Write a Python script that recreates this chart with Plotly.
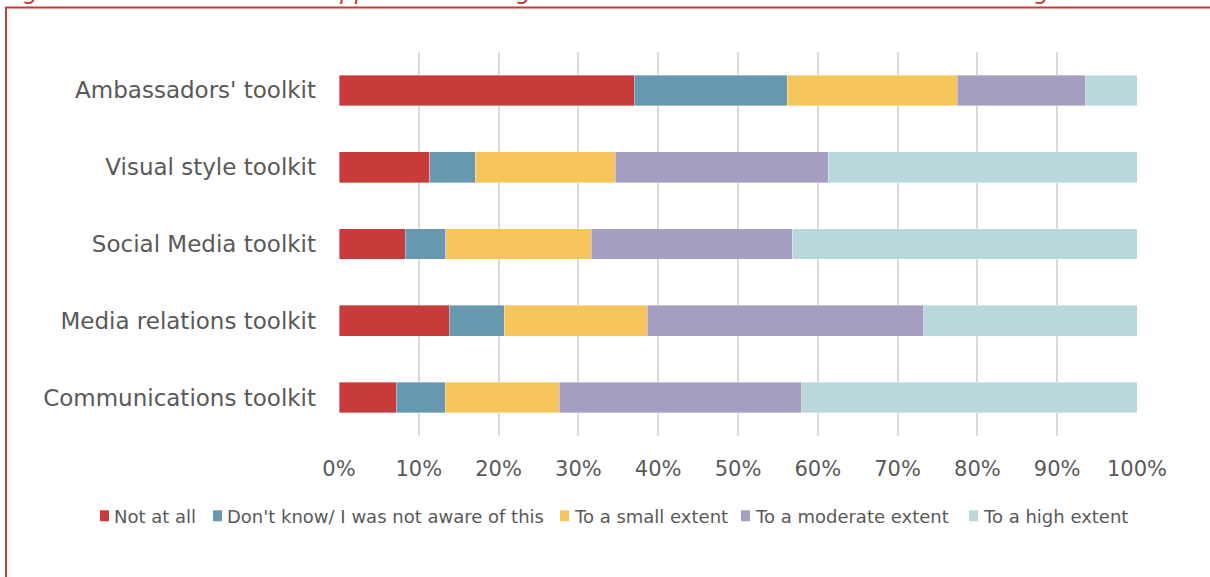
import plotly.graph_objects as go

# Toolkits shown top to bottom
categories = [
    "Ambassadors' toolkit",
    "Visual style toolkit",
    "Social Media toolkit",
    "Media relations toolkit",
    "Communications toolkit",
]

# Share of respondents per answer (%)
not_at_all = [37.0, 11.4, 8.3, 13.8, 7.2]
dont_know = [19.2, 5.7, 5.1, 6.9, 6.1]
small_extent = [21.3, 17.5, 18.2, 17.9, 14.3]
moderate_extent = [16.1, 26.7, 25.2, 34.7, 30.4]
high_extent = [6.4, 38.7, 43.2, 26.7, 42.0]

series_names = [
    "Not at all",
    "Don't know/ I was not aware of this",
    "To a small extent",
    "To a moderate extent",
    "To a high extent",
]
series_values = [not_at_all, dont_know, small_extent, moderate_extent, high_extent]
series_colors = ["#C73B3B", "#6798B0", "#F6C55B", "#A59EC1", "#BAD8DB"]

tick_vals = [0, 10, 20, 30, 40, 50, 60, 70, 80, 90, 100]
tick_text = [f"{v}%" for v in tick_vals]

FONT = "Century Gothic, DejaVu Sans, sans-serif"
TEXT_COLOR = "#595959"
FRAME_RED = "#C83A3A"

W, H = 1210, 577
L, R, T, B = 339, 73, 51.5, 140.5
pw, ph = W - L - R, H - T - B


def px_x(x):
    return (x - L) / pw


def px_y(y):
    return 1 + (T - y) / ph


fig = go.Figure()
for name, vals, color in zip(series_names, series_values, series_colors):
    fig.add_trace(go.Bar(
        name=name,
        y=categories,
        x=vals,
        orientation="h",
        marker=dict(color=color, line=dict(color="rgba(255,255,255,0.6)", width=0.6)),
        width=0.4,
        showlegend=False,
    ))

fig.update_layout(
    barmode="stack",
    width=W,
    height=H,
    margin=dict(l=L, r=R, t=T, b=B, pad=0, autoexpand=False),
    paper_bgcolor="white",
    plot_bgcolor="white",
    font=dict(family=FONT, color=TEXT_COLOR),
    xaxis=dict(
        range=[0, 100],
        tickvals=tick_vals,
        ticktext=tick_text,
        tickangle=0,
        showgrid=True,
        gridcolor="#D9D9D9",
        gridwidth=2,
        zeroline=False,
        showline=False,
        ticks="",
        ticklabelstandoff=18,
        automargin=False,
        tickfont=dict(size=21, color=TEXT_COLOR, family=FONT),
    ),
    yaxis=dict(
        categoryorder="array",
        categoryarray=categories[::-1],
        showgrid=False,
        zeroline=False,
        showline=False,
        ticks="",
        ticklabelstandoff=22,
        automargin=False,
        tickfont=dict(size=23, color=TEXT_COLOR, family=FONT),
    ),
    bargap=0.6,
    showlegend=False,
)

# Legend: small colour squares followed by labels, in one row below the axis
legend_y = 517
legend_symbol_x = [100, 213, 560, 741, 969]
for name, color, sx in zip(series_names, series_colors, legend_symbol_x):
    fig.add_shape(
        type="rect",
        xref="paper", yref="paper",
        x0=px_x(sx), x1=px_x(sx + 9),
        y0=px_y(legend_y + 5), y1=px_y(legend_y - 6),
        line=dict(width=0),
        fillcolor=color,
    )
    fig.add_annotation(
        text=name,
        xref="paper", yref="paper",
        x=px_x(sx + 12), y=px_y(legend_y),
        xanchor="left", yanchor="middle",
        showarrow=False,
        font=dict(size=18, color=TEXT_COLOR, family=FONT),
    )

# Red frame around the figure area
fig.add_shape(
    type="rect",
    xref="paper", yref="paper",
    x0=px_x(6), x1=px_x(1240),
    y0=px_y(620), y1=px_y(7),
    line=dict(color=FRAME_RED, width=2),
    fillcolor="rgba(0,0,0,0)",
    layer="below",
)

# Figure caption above the frame
fig.add_annotation(
    text="<i>Figure 35 Use of tools and support for the organisation of events and activities – event organisers</i>",
    xref="paper", yref="paper",
    x=px_x(2), y=px_y(5),
    xanchor="left", yanchor="bottom",
    showarrow=False,
    font=dict(size=23, color=FRAME_RED, family=FONT),
)

fig.write_html("out.html")
